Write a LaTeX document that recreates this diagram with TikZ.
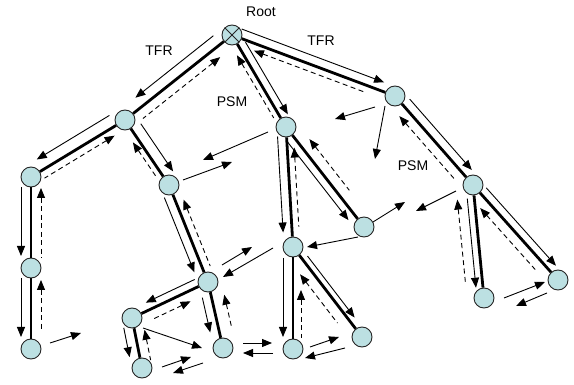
\documentclass[tikz,border=0pt]{standalone}
\usepackage{fontspec}
\setmainfont{Liberation Sans}
\usetikzlibrary{arrows.meta,calc}
\definecolor{nodefill}{HTML}{BCE0E2}
% #1 parent, #2 child, #3 side angle (90/270), #4 offset, #5 shorten near parent, #6 shorten near child, #7 style
\newcommand\edgemsg[7]{%
  \draw[#7, shorten <=#5pt, shorten >=#6pt]
    ($(#1.center)!#4pt!#3:(#2.center)$) -- ($(#2.center)!#4pt!-#3:(#1.center)$);
}
\begin{document}
\begin{tikzpicture}[x=1pt,y=-1pt,
  nd/.style={circle, draw=black!85, fill=nodefill, minimum size=20pt, inner sep=0pt, line width=0.9pt},
  tree/.style={line width=2.8pt},
  tfr/.style={line width=0.9pt, -{Triangle[length=10pt,width=8pt]}},
  psm/.style={line width=0.9pt, dash pattern=on 5pt off 3.5pt, {Triangle[length=10pt,width=8pt]}-},
  msg/.style={line width=0.9pt, -{Triangle[length=10pt,width=8pt]}},
  lbl/.style={font=\fontsize{14}{16}\selectfont, inner sep=0pt}
]
\useasboundingbox (0,0) rectangle (574,385);

% nodes
\node[nd] (Root) at (232,35) {};
\node[nd] (N1) at (125,120) {};
\node[nd] (N2) at (31,177) {};
\node[nd] (N3) at (31,268) {};
\node[nd] (N4) at (31,349) {};
\node[nd] (N5) at (169,185) {};
\node[nd] (N6) at (208,282) {};
\node[nd] (N7) at (132,318) {};
\node[nd] (N8) at (142,368) {};
\node[nd] (N9) at (223,348) {};
\node[nd] (N10) at (286,127) {};
\node[nd] (N11) at (395,96) {};
\node[nd] (N12) at (473,185) {};
\node[nd] (N13) at (364,227) {};
\node[nd] (N14) at (293,247) {};
\node[nd] (N15) at (293,349) {};
\node[nd] (N16) at (362,337) {};
\node[nd] (N17) at (484,298) {};
\node[nd] (N18) at (558,280) {};
\draw[line width=0.9pt, black!85] (Root.45) -- (Root.225) (Root.135) -- (Root.-45);

% labels
\node[lbl] (lRoot) at (261,12) {Root};
\node[lbl] (lTFR1) at (159,51) {TFR};
\node[lbl] (lTFR2) at (321,41) {TFR};
\node[lbl] (lPSM1) at (232,102) {PSM};
\node[lbl] (lPSM2) at (413,166) {PSM};

% tree edges
\draw[tree] (Root) -- (N1);
\draw[tree] (N1) -- (N2);
\draw[tree] (N2) -- (N3);
\draw[tree] (N3) -- (N4);
\draw[tree] (N1) -- (N5);
\draw[tree] (N5) -- (N6);
\draw[tree] (N6) -- (N7);
\draw[tree] (N7) -- (N8);
\draw[tree] (N6) -- (N9);
\draw[tree] (Root) -- (N10);
\draw[tree] (N10) -- (N14);
\draw[tree] (N10) -- (N13);
\draw[tree] (N14) -- (N15);
\draw[tree] (N14) -- (N16);
\draw[tree] (Root) -- (N11);
\draw[tree] (N11) -- (N12);
\draw[tree] (N12) -- (N17);
\draw[tree] (N12) -- (N18);

% TFR (solid, downward) and PSM (dashed, upward) along the edges
\edgemsg{Root}{N1}{270}{11}{15}{22}{tfr}
\edgemsg{Root}{N1}{90}{10}{23}{15}{psm}
\edgemsg{N1}{N2}{270}{12}{11}{14}{tfr}
\edgemsg{N1}{N2}{90}{8}{17}{11}{psm}
\edgemsg{N2}{N3}{270}{10}{10}{12}{tfr}
\edgemsg{N2}{N3}{90}{10}{11}{10}{psm}
\edgemsg{N3}{N4}{270}{10}{10}{12}{tfr}
\edgemsg{N3}{N4}{90}{10}{12}{19}{psm}
\edgemsg{N1}{N5}{90}{11}{12}{9}{tfr}
\edgemsg{N1}{N5}{270}{6}{23}{13}{psm}
\edgemsg{N5}{N6}{270}{9}{10}{14}{tfr}
\edgemsg{N5}{N6}{90}{8}{19}{14}{psm}
\edgemsg{N6}{N7}{270}{8}{11}{19}{tfr}
\edgemsg{N6}{N7}{90}{10}{24}{18}{psm}
\edgemsg{N7}{N8}{270}{10}{8}{13}{tfr}
\edgemsg{N7}{N8}{90}{10}{14}{6}{psm}
\edgemsg{N6}{N9}{270}{9}{14}{18}{tfr}
\edgemsg{N6}{N9}{90}{13}{16}{17}{psm}
\edgemsg{Root}{N10}{90}{8}{13}{10}{tfr}
\edgemsg{Root}{N10}{270}{6}{20}{14}{psm}
\edgemsg{N10}{N14}{270}{9}{9}{15}{tfr}
\edgemsg{N10}{N14}{90}{7}{21}{20}{psm}
\edgemsg{N10}{N13}{270}{8}{13}{15}{tfr}
\edgemsg{N10}{N13}{90}{11}{24}{38}{psm}
\edgemsg{N14}{N15}{270}{10}{11}{12}{tfr}
\edgemsg{N14}{N15}{90}{8}{43}{11}{psm}
\edgemsg{N14}{N16}{90}{6}{16}{20}{tfr}
\edgemsg{N14}{N16}{270}{11}{26}{26}{psm}
\edgemsg{Root}{N11}{90}{9}{7}{15}{tfr}
\edgemsg{Root}{N11}{270}{7}{26}{28}{psm}
\edgemsg{N11}{N12}{90}{9}{12}{12}{tfr}
\edgemsg{N11}{N12}{270}{10}{18}{16}{psm}
\edgemsg{N12}{N17}{270}{7}{13}{11}{tfr}
\edgemsg{N12}{N17}{270}{17}{13}{18}{psm}
\edgemsg{N12}{N18}{90}{8}{11}{12}{tfr}
\edgemsg{N12}{N18}{270}{10}{22}{23}{psm}

% free messages
\draw[msg] ($(N10.center)+(-18,5)$) -- ($(N5.center)+(34,-25)$);
\draw[msg] ($(N5.center)+(14,-5)$) -- ($(N10.center)+(-54,35)$);
\draw[msg] ($(N11.center)+(-20,11)$) -- ($(N11.center)+(-60,23)$);
\draw[msg] ($(N11.center)+(-10,10)$) -- ($(N11.center)+(-20,63)$);
\draw[msg] ($(N12.center)+(-17,6)$) -- ($(N12.center)+(-57,26)$);
\draw[msg] ($(N13.center)+(9,-5)$) -- ($(N13.center)+(41,-25)$);
\draw[msg] ($(N13.center)+(-6,10)$) -- ($(N14.center)+(14,0)$);
\draw[msg] ($(N14.center)+(-20,1)$) -- ($(N6.center)+(15,-5)$);
\draw[msg] ($(N6.center)+(14,-17)$) -- ($(N6.center)+(44,-35)$);
\draw[msg] ($(N7.center)+(11,10)$) -- ($(N9.center)+(-21,0)$);
\draw[msg] ($(N8.center)+(20,-1)$) -- ($(N9.center)+(-32,9)$);
\draw[msg] ($(N9.center)+(-20,15)$) -- ($(N8.center)+(31,5)$);
\draw[msg] ($(N9.center)+(20,-5)$) -- ($(N15.center)+(-21,-6)$);
\draw[msg] ($(N15.center)+(-20,4)$) -- ($(N9.center)+(20,5)$);
\draw[msg] ($(N15.center)+(17,-2)$) -- ($(N16.center)+(-23,0)$);
\draw[msg] ($(N16.center)+(-17,11)$) -- ($(N15.center)+(12,9)$);
\draw[msg] ($(N17.center)+(20,0)$) -- ($(N18.center)+(-13,2)$);
\draw[msg] ($(N18.center)+(-11,13)$) -- ($(N17.center)+(32,8)$);
\draw[msg] ($(N4.center)+(19,-6)$) -- ($(N4.center)+(50,-16)$);
\end{tikzpicture}
\end{document}
